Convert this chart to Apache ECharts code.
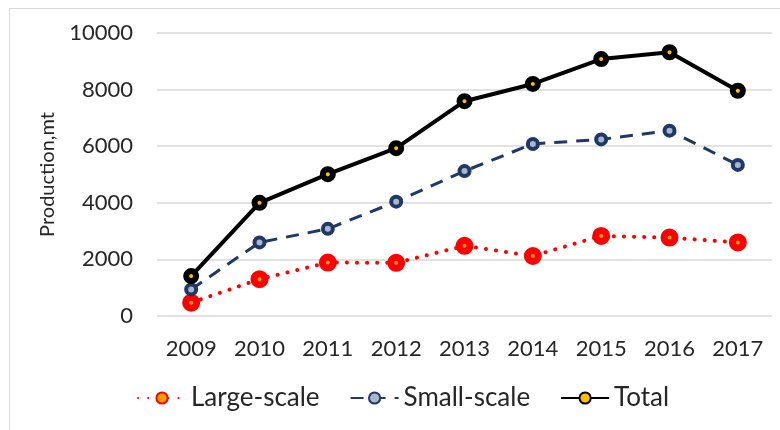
<!DOCTYPE html>
<html>
<head>
<meta charset="utf-8">
<script src="https://cdn.jsdelivr.net/npm/echarts@6/dist/echarts.min.js"></script>
<style>
  html, body { margin: 0; padding: 0; background: #fff; }
  #main { width: 780px; height: 430px; }
</style>
</head>
<body>
<div id="main"></div>
<script>
let years = ["2009", "2010", "2011", "2012", "2013", "2014", "2015", "2016", "2017"];
let largeScale = [470, 1300, 1890, 1880, 2480, 2120, 2830, 2770, 2600];
let smallScale = [940, 2600, 3080, 4040, 5120, 6080, 6240, 6550, 5340];
let total = [1410, 4000, 5010, 5930, 7590, 8200, 9080, 9320, 7960];

let chartDom = document.getElementById("main");
let myChart = echarts.init(chartDom);
let textColor = "#262626";
let font = "Lato, 'Open Sans', sans-serif";

let option = {
    animation: false,
    textStyle: { fontFamily: font },
    grid: {
        left: 157,
        right: 8,
        top: 33,
        bottom: 114,
    },
    xAxis: {
        type: "category",
        data: years,
        boundaryGap: true,
        axisLine: { show: false },
        axisTick: { show: false },
        axisLabel: { color: textColor, fontSize: 22, margin: 22, fontFamily: font },
    },
    yAxis: {
        type: "value",
        min: 0,
        max: 10000,
        interval: 2000,
        name: "Production,mt",
        nameLocation: "middle",
        nameGap: 99,
        nameTextStyle: { color: textColor, fontSize: 20, fontFamily: font },
        axisLabel: {
            color: textColor,
            fontSize: 22,
            margin: 24,
            fontFamily: font,
            formatter: (v) => String(v),
        },
        splitLine: { lineStyle: { color: "#d9d9d9", width: 1.5 } },
    },
    legend: {
        bottom: 14,
        left: 132,
        itemWidth: 48,
        itemHeight: 14,
        itemGap: 30,
        textStyle: { color: textColor, fontSize: 26, fontFamily: font },
        data: ["Large-scale", "Small-scale", "Total"],
    },
    graphic: [
        {
            type: "rect",
            shape: { x: 9.5, y: 8.5, width: 800, height: 440 },
            style: { fill: "none", stroke: "#d9d9d9", lineWidth: 1 },
            silent: true,
            z: -1,
        },
    ],
    series: [
        {
            name: "Large-scale",
            type: "line",
            data: largeScale,
            symbol: "circle",
            symbolSize: 11,
            itemStyle: { color: "#f0a000", borderColor: "#ff0000", borderWidth: 7 },
            lineStyle: { color: "#ff0000", width: 4, type: [0.1, 10], cap: "round" },
            z: 3,
        },
        {
            name: "Small-scale",
            type: "line",
            data: smallScale,
            symbol: "circle",
            symbolSize: 10,
            itemStyle: { color: "#a9b6cf", borderColor: "#1f3864", borderWidth: 4 },
            lineStyle: { color: "#1f3864", width: 3, type: [13, 9] },
            z: 4,
        },
        {
            name: "Total",
            type: "line",
            data: total,
            symbol: "circle",
            symbolSize: 10,
            itemStyle: { color: "#ffc000", borderColor: "#000000", borderWidth: 6 },
            lineStyle: { color: "#000000", width: 4 },
            z: 5,
        },
    ],
};

myChart.setOption(option);
</script>
</body>
</html>
